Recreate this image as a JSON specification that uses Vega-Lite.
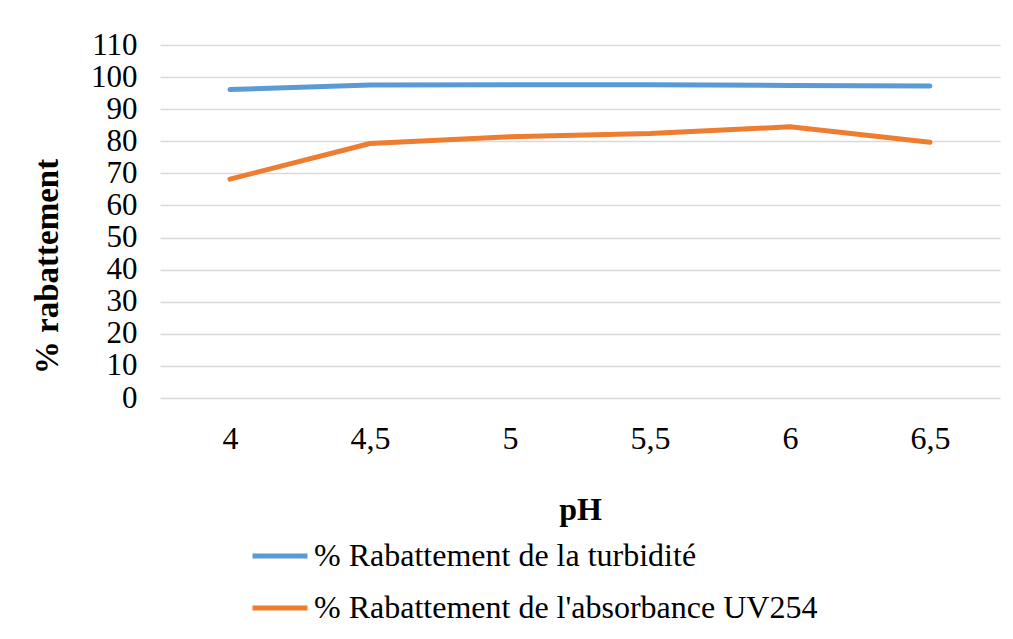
{
  "$schema": "https://vega.github.io/schema/vega-lite/v6.json",
  "width": 840,
  "height": 353,
  "autosize": {"type": "none"},
  "padding": {"left": 160, "top": 45, "right": 13, "bottom": 241},
  "background": "white",
  "config": {"view": {"stroke": null}, "font": "Times New Roman"},
  "data": {
    "values": [
      {"pH": "4", "serie": "% Rabattement de la turbidité", "valeur": 96.1},
      {"pH": "4,5", "serie": "% Rabattement de la turbidité", "valeur": 97.5},
      {"pH": "5", "serie": "% Rabattement de la turbidité", "valeur": 97.6},
      {"pH": "5,5", "serie": "% Rabattement de la turbidité", "valeur": 97.6},
      {"pH": "6", "serie": "% Rabattement de la turbidité", "valeur": 97.4},
      {"pH": "6,5", "serie": "% Rabattement de la turbidité", "valeur": 97.2},
      {"pH": "4", "serie": "% Rabattement de l'absorbance UV254", "valeur": 68.2},
      {"pH": "4,5", "serie": "% Rabattement de l'absorbance UV254", "valeur": 79.3},
      {"pH": "5", "serie": "% Rabattement de l'absorbance UV254", "valeur": 81.4},
      {"pH": "5,5", "serie": "% Rabattement de l'absorbance UV254", "valeur": 82.4},
      {"pH": "6", "serie": "% Rabattement de l'absorbance UV254", "valeur": 84.5},
      {"pH": "6,5", "serie": "% Rabattement de l'absorbance UV254", "valeur": 79.7}
    ]
  },
  "mark": {"type": "line", "strokeWidth": 5, "strokeCap": "round", "strokeJoin": "round"},
  "encoding": {
    "x": {
      "field": "pH",
      "type": "ordinal",
      "sort": ["4", "4,5", "5", "5,5", "6", "6,5"],
      "scale": {"type": "point", "padding": 0.5},
      "axis": {
        "title": "pH",
        "labelAngle": 0,
        "labelFontSize": 32,
        "labelColor": "black",
        "labelFont": "serif",
        "labelFontWeight": "normal",
        "ticks": false,
        "domain": false,
        "grid": false,
        "labelPadding": 25,
        "titleFont": "Liberation Serif",
        "titleFontSize": 32,
        "titleFontWeight": "bold",
        "titleColor": "black",
        "titlePadding": 40
      }
    },
    "y": {
      "field": "valeur",
      "type": "quantitative",
      "scale": {"domain": [0, 110], "nice": false},
      "axis": {
        "title": "% rabattement",
        "values": [0, 10, 20, 30, 40, 50, 60, 70, 80, 90, 100, 110],
        "labelFontSize": 31,
        "labelColor": "black",
        "labelFont": "Times New Roman",
        "labelFontWeight": "normal",
        "labelPadding": 23,
        "ticks": false,
        "domain": false,
        "grid": true,
        "gridColor": "#d9d9d9",
        "gridWidth": 1.3,
        "titleFont": "Liberation Serif",
        "titleFontSize": 33,
        "titleFontWeight": "bold",
        "titleColor": "black",
        "titleAngle": -90,
        "titleAlign": "center",
        "titleBaseline": "middle",
        "titleX": -113,
        "titleY": 221
      }
    },
    "color": {
      "field": "serie",
      "type": "nominal",
      "scale": {
        "domain": ["% Rabattement de la turbidité", "% Rabattement de l'absorbance UV254"],
        "range": ["#5B9BD5", "#ED7D31"]
      },
      "legend": {
        "title": null,
        "orient": "none",
        "legendX": 90,
        "legendY": 481,
        "direction": "vertical",
        "symbolType": "stroke",
        "symbolSize": 3025,
        "symbolStrokeWidth": 5,
        "labelFont": "Liberation Serif",
        "labelFontWeight": "normal",
        "labelFontSize": 32,
        "labelColor": "black",
        "labelOffset": 4,
        "labelLimit": 700,
        "rowPadding": 6
      }
    }
  }
}
